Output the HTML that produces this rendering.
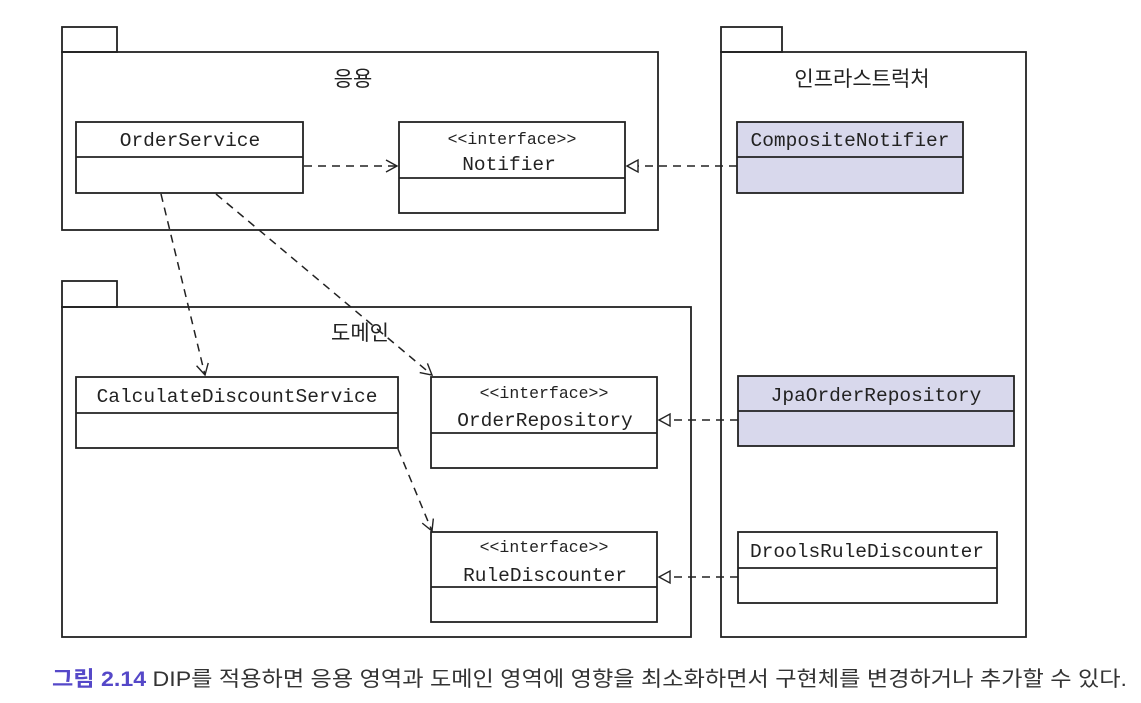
<!DOCTYPE html>
<html><head><meta charset="utf-8"><style>
html,body{margin:0;padding:0;background:#fff;width:1141px;height:703px;overflow:hidden}
</style></head><body>
<svg width="1141" height="703" viewBox="0 0 1141 703" xmlns="http://www.w3.org/2000/svg">
<defs>
<marker id="open" markerWidth="14" markerHeight="14" refX="12" refY="7" orient="auto" markerUnits="userSpaceOnUse">
<path d="M1,1 L12,7 L1,13" fill="none" stroke="#222" stroke-width="1.4"/></marker>
<marker id="tri" markerWidth="14" markerHeight="16" refX="12" refY="8" orient="auto" markerUnits="userSpaceOnUse">
<path d="M12,8 L1,2 L1,14 Z" fill="#fff" stroke="#222" stroke-width="1.4"/></marker>
</defs>
<g fill="none" stroke="#222" stroke-width="1.8">
<rect x="62" y="27" width="55" height="25"/><rect x="62" y="52" width="596" height="178"/>
<rect x="721" y="27" width="61" height="25"/><rect x="721" y="52" width="305" height="585"/>
<rect x="62" y="281" width="55" height="26"/><rect x="62" y="307" width="629" height="330"/>
<rect x="76" y="122" width="227" height="71"/><line x1="76" y1="157" x2="303" y2="157"/>
<rect x="399" y="122" width="226" height="91"/><line x1="399" y1="178" x2="625" y2="178"/>
<rect x="737" y="122" width="226" height="71" fill="#d8d8ec"/><line x1="737" y1="157" x2="963" y2="157"/>
<rect x="76" y="377" width="322" height="71"/><line x1="76" y1="413" x2="398" y2="413"/>
<rect x="431" y="377" width="226" height="91"/><line x1="431" y1="433" x2="657" y2="433"/>
<rect x="431" y="532" width="226" height="90"/><line x1="431" y1="587" x2="657" y2="587"/>
<rect x="738" y="376" width="276" height="70" fill="#d8d8ec"/><line x1="738" y1="411" x2="1014" y2="411"/>
<rect x="738" y="532" width="259" height="71"/><line x1="738" y1="568" x2="997" y2="568"/>
</g>
<g fill="none" stroke="#222" stroke-width="1.5" stroke-dasharray="8,6">
<line x1="304" y1="166" x2="397" y2="166" marker-end="url(#open)"/>
<line x1="161" y1="194" x2="205" y2="375" marker-end="url(#open)"/>
<line x1="216" y1="194" x2="432" y2="375" marker-end="url(#open)"/>
<line x1="398" y1="449" x2="432" y2="531" marker-end="url(#open)"/>
<line x1="737" y1="166" x2="627" y2="166" marker-end="url(#tri)"/>
<line x1="738" y1="420" x2="659" y2="420" marker-end="url(#tri)"/>
<line x1="738" y1="577" x2="659" y2="577" marker-end="url(#tri)"/>
</g>
<g font-family="'Liberation Sans','Noto Sans CJK KR',sans-serif" font-size="21" fill="#222" text-anchor="middle">
<text x="353" y="86">응용</text>
<text x="862" y="86">인프라스트럭처</text>
<text x="360" y="340">도메인</text>
</g>
<g font-family="'Liberation Mono',monospace" font-size="19.5" fill="#222" text-anchor="middle">
<text x="190" y="146">OrderService</text>
<text x="509" y="170">Notifier</text>
<text x="850" y="146">CompositeNotifier</text>
<text x="237" y="402">CalculateDiscountService</text>
<text x="545" y="426">OrderRepository</text>
<text x="545" y="581">RuleDiscounter</text>
<text x="876" y="401">JpaOrderRepository</text>
<text x="867" y="557">DroolsRuleDiscounter</text>
</g>
<g font-family="'Liberation Mono',monospace" font-size="16.5" fill="#222" text-anchor="middle">
<text x="512" y="144">&lt;&lt;interface&gt;&gt;</text>
<text x="544" y="398">&lt;&lt;interface&gt;&gt;</text>
<text x="544" y="552">&lt;&lt;interface&gt;&gt;</text>
</g>
<text x="52" y="686" font-family="'Liberation Sans','Noto Sans CJK KR',sans-serif" font-size="21" fill="#333" textLength="1075" lengthAdjust="spacingAndGlyphs"><tspan fill="#5548c8" font-weight="bold">그림 2.14</tspan> DIP를 적용하면 응용 영역과 도메인 영역에 영향을 최소화하면서 구현체를 변경하거나 추가할 수 있다.</text>
</svg>
</body></html>
